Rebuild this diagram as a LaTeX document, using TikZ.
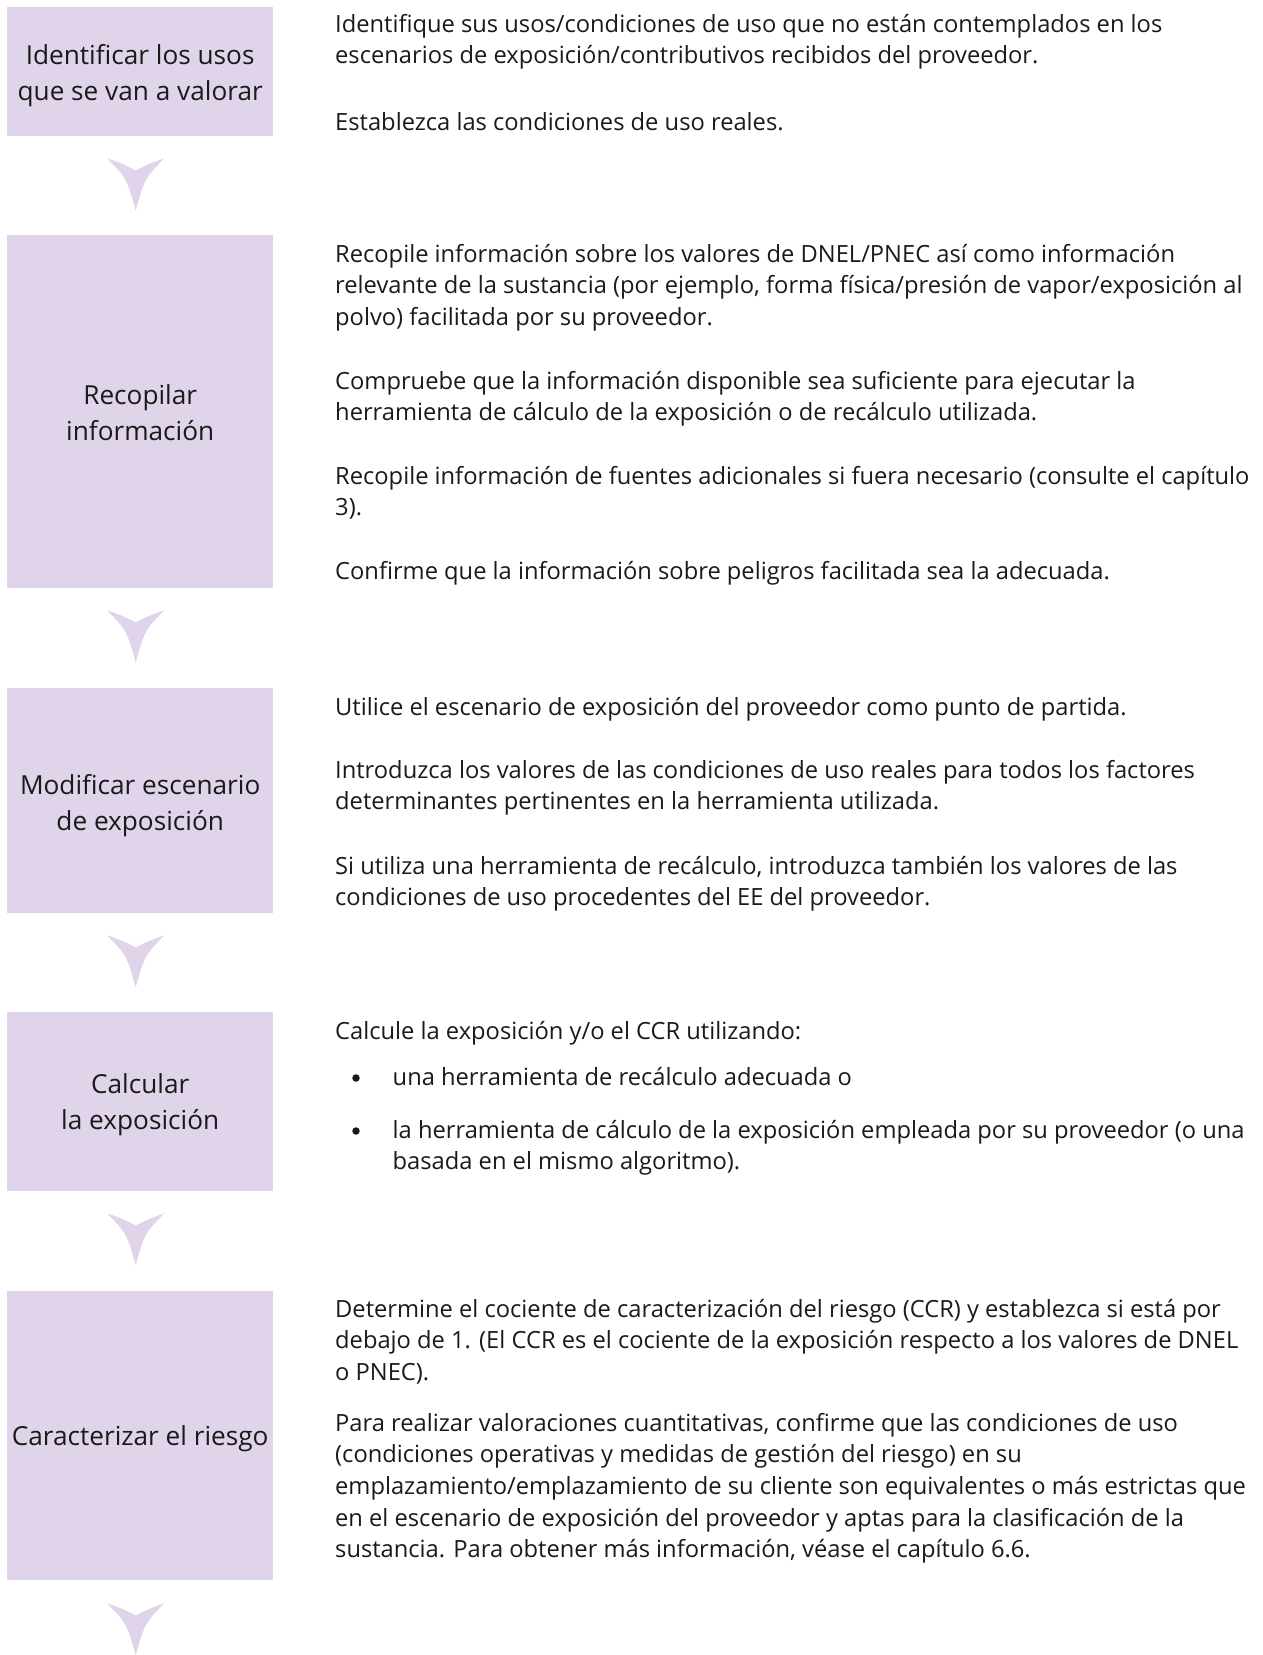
\documentclass[tikz,border=0pt]{standalone}
\usepackage{fontspec}
\setmainfont{Open Sans}
\definecolor{lav}{HTML}{E0D4EA}
\definecolor{ink}{HTML}{1A1A1A}
\newcommand\lblfont{\fontsize{26.2pt}{35.5pt}\selectfont}
\newcommand\txtfont{\fontsize{23.7pt}{31.7pt}\selectfont}
\tikzset{
  stage/.style={fill=lav, minimum width=266pt, inner sep=0pt, anchor=north west},
  lbl/.style={align=center, inner sep=0pt, font=\lblfont, text=ink},
  desc/.style={anchor=base west, align=left, inner sep=0pt, font=\txtfont, text=ink, yshift=-1pt},
  bul/.style={circle, fill=ink, minimum size=7.5pt, inner sep=0pt, yshift=-1pt},
  chev/.pic={\fill[lav] (-28.5,0) .. controls (-14,5) .. (0,12)
      .. controls (14,5) .. (28.5,0) .. controls (9,20) .. (0,52)
      .. controls (-9,20) .. (-28.5,0) -- cycle;}
}
\begin{document}
\begin{tikzpicture}[x=1pt,y=-1pt]
\useasboundingbox[fill=white] (0,0) rectangle (1263,1655);
% stage boxes
\node[stage, minimum height=129pt] (b1) at (7,7) {};
\node[stage, minimum height=353pt] (b2) at (7,235) {};
\node[stage, minimum height=225pt] (b3) at (7,688) {};
\node[stage, minimum height=179pt] (b4) at (7,1012) {};
\node[stage, minimum height=289pt] (b5) at (7,1291) {};
\node[lbl] (l1) at ([yshift=-4pt]b1.center) {Identificar los usos\\que se van a valorar};
\node[lbl] (l2) at ([yshift=-1pt]b2.center) {Recopilar\\información};
\node[lbl] (l3) at ([yshift=-5pt]b3.center) {Modificar escenario\\de exposición};
\node[lbl] (l4) at ([yshift=-3pt]b4.center) {Calcular\\la exposición};
\node[lbl] (l5) at ([yshift=-3pt]b5.center) {Caracterizar el riesgo};
% chevrons
\path (b1.south) ++(-4.5,22) pic {chev};
\path (b2.south) ++(-4.5,22) pic {chev};
\path (b3.south) ++(-4.5,22) pic {chev};
\path (b4.south) ++(-4.5,22) pic {chev};
\path (b5.south) ++(-4.5,23) pic {chev};
% descriptions (anchored at the baseline of their last line)
\node[desc] (t1a) at (335,62.7) {Identifique sus usos/condiciones de uso que no están contemplados en los\\escenarios de exposición/contributivos recibidos del proveedor.};
\node[desc] (t1b) at (335,129) {Establezca las condiciones de uso reales.};

\node[desc] (t2a) at (335,324.4) {Recopile información sobre los valores de DNEL/PNEC así como información\\relevante de la sustancia (por ejemplo, forma física/presión de vapor/exposición al\\polvo) facilitada por su proveedor.};
\node[desc] (t2b) at (335,419.7) {Compruebe que la información disponible sea suficiente para ejecutar la\\herramienta de cálculo de la exposición o de recálculo utilizada.};
\node[desc] (t2c) at (335,514.7) {Recopile información de fuentes adicionales si fuera necesario (consulte el capítulo\\3).};
\node[desc] (t2d) at (335,578) {Confirme que la información sobre peligros facilitada sea la adecuada.};

\node[desc] (t3a) at (335,714) {Utilice el escenario de exposición del proveedor como punto de partida.};
\node[desc] (t3b) at (335,808.7) {Introduzca los valores de las condiciones de uso reales para todos los factores\\determinantes pertinentes en la herramienta utilizada.};
\node[desc] (t3c) at (335,904.7) {Si utiliza una herramienta de recálculo, introduzca también los valores de las\\condiciones de uso procedentes del EE del proveedor.};

\node[desc] (t4a) at (335,1038) {Calcule la exposición y/o el CCR utilizando:};
\node[bul] (d1) at (356,1077) {};
\node[desc] (t4b) at (392.5,1084) {una herramienta de recálculo adecuada o};
\node[bul] (d2) at (356,1130) {};
\node[desc] (t4c) at (392.5,1168.7) {la herramienta de cálculo de la exposición empleada por su proveedor (o una\\basada en el mismo algoritmo).};

\node[desc] (t5a) at (335,1379.4) {Determine el cociente de caracterización del riesgo (CCR) y establezca si está por\\debajo de 1. (El CCR es el cociente de la exposición respecto a los valores de DNEL\\o PNEC).};
\node[desc] (t5b) at (335,1556.8) {Para realizar valoraciones cuantitativas, confirme que las condiciones de uso\\(condiciones operativas y medidas de gestión del riesgo) en su\\emplazamiento/emplazamiento de su cliente son equivalentes o más estrictas que\\en el escenario de exposición del proveedor y aptas para la clasificación de la\\sustancia. Para obtener más información, véase el capítulo 6.6.};
\end{tikzpicture}
\end{document}
